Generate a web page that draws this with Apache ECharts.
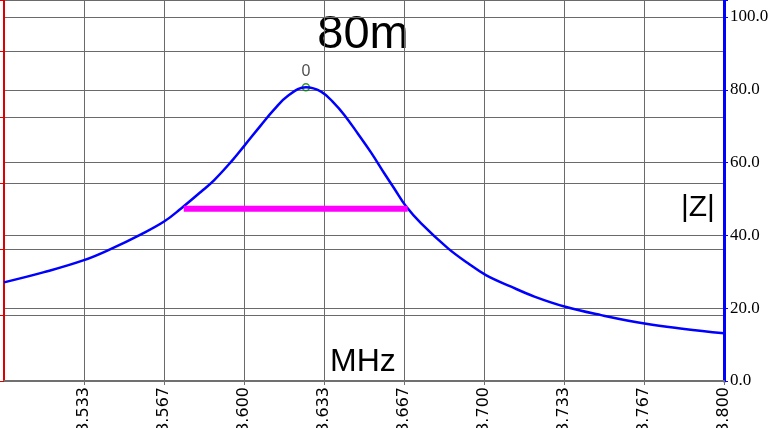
<!DOCTYPE html>
<html>
<head>
<meta charset="utf-8">
<script src="https://cdn.jsdelivr.net/npm/echarts@6/dist/echarts.min.js"></script>
<style>
html,body{margin:0;padding:0;background:#fff;}
#chart{width:777px;height:428px;}
</style>
</head>
<body>
<div id="chart"></div>
<script>
// impedance sweep, 80m band
var freqs = [3.5000, 3.5167, 3.5333, 3.5446, 3.5571, 3.5667, 3.5738, 3.5821, 3.5876, 3.5946, 3.6001,
             3.6071, 3.6126, 3.6182, 3.6258, 3.6321, 3.6376, 3.6418, 3.6474, 3.6529, 3.6585, 3.6626,
             3.6675, 3.6738, 3.6849, 3.6932, 3.7008, 3.7113, 3.7210, 3.7339, 3.7488, 3.7675, 3.7835, 3.8000];
var zVals = [27.1, 29.9, 33.2, 36.3, 40.3, 43.8, 47.4, 52.0, 55.2, 60.2, 64.6,
             70.3, 74.6, 78.3, 80.7, 79.5, 76.3, 73.1, 68.0, 62.8, 57.0, 52.9,
             48.0, 43.3, 36.5, 32.4, 29.1, 25.9, 23.2, 20.4, 18.1, 15.7, 14.3, 13.1];
var bwFreqs = [3.5749, 3.6682];   // magenta bar ends
var bwLevel = 47.3;
var peakFreq = 3.6258, peakZ = 80.7, peakName = '0';
var xTicks = ['3.533', '3.567', '3.600', '3.633', '3.667', '3.700', '3.733', '3.767', '3.800'];
var zTicks = ['0.0', '20.0', '40.0', '60.0', '80.0', '100.0'];

var xMin = 3.5, xMax = 3.8;
var zMax = 104.67; // top of plot sits above the 100.0 tick

var curve = [];
for (var i = 0; i < freqs.length; i++) curve.push([freqs[i], zVals[i]]);
var bw = [[bwFreqs[0], bwLevel], [bwFreqs[1], bwLevel]];

var chart = echarts.init(document.getElementById('chart'));
var option = {
    animation: false,
    grid: { left: 4, right: 53, top: 0, bottom: 47, outerBoundsMode: 'none', containLabel: false },
    xAxis: {
        type: 'value',
        min: xMin,
        max: xMax,
        interval: (xMax - xMin) / xTicks.length,
        axisLine: { show: true, lineStyle: { color: '#707070', width: 2 } },
        axisTick: { show: true, length: 4, lineStyle: { color: '#707070' } },
        splitLine: { show: true, lineStyle: { color: '#6a6a6a', width: 1 } },
        axisLabel: {
            rotate: 90,
            margin: 6,
            showMinLabel: false,
            fontFamily: 'DejaVu Sans',
            fontSize: 16,
            color: '#000',
            formatter: function (v) {
                var idx = Math.round((v - xMin) / ((xMax - xMin) / xTicks.length)) - 1;
                return idx >= 0 ? xTicks[idx] : '';
            }
        }
    },
    yAxis: [
        {
            type: 'value',
            position: 'left',
            min: 0,
            max: 5.7727,
            interval: 1,
            axisLine: { show: true, lineStyle: { color: '#dd0000', width: 2 } },
            axisTick: { show: true, length: 4, lineStyle: { color: '#dd0000' } },
            axisLabel: { show: false },
            splitLine: { show: true, lineStyle: { color: '#6a6a6a', width: 1 } }
        },
        {
            type: 'value',
            position: 'right',
            min: 0,
            max: zMax,
            interval: 20,
            axisLine: { show: true, lineStyle: { color: '#0000ff', width: 3 } },
            axisTick: { show: true, length: 4, lineStyle: { color: '#0000ff' } },
            axisLabel: {
                margin: 6,
                fontFamily: 'Liberation Serif',
                fontSize: 17,
                color: '#000',
                formatter: function (v) {
                    var idx = Math.round(v / 20);
                    return (Math.abs(v - idx * 20) < 0.01 && zTicks[idx]) ? zTicks[idx] : '';
                }
            },
            splitLine: { show: true, lineStyle: { color: '#6a6a6a', width: 1 } }
        }
    ],
    series: [
        {
            name: '|Z|',
            type: 'line',
            yAxisIndex: 1,
            data: curve,
            smooth: 0.4,
            showSymbol: false,
            lineStyle: { color: '#0000ff', width: 2.5 }
        },
        {
            name: 'bw',
            type: 'line',
            yAxisIndex: 1,
            data: bw,
            showSymbol: false,
            lineStyle: { color: '#ff00ff', width: 6, cap: 'butt' }
        },
        {
            name: 'marker',
            type: 'scatter',
            yAxisIndex: 1,
            data: [[peakFreq, peakZ]],
            symbol: 'circle',
            symbolSize: 7,
            itemStyle: { color: 'rgba(0,0,0,0)', borderColor: '#008000', borderWidth: 1.5 },
            label: {
                show: true,
                position: 'top',
                distance: 3,
                formatter: peakName,
                fontFamily: 'Liberation Sans',
                fontSize: 16,
                color: '#222'
            }
        }
    ],
    graphic: [
        { type: 'text', x: 363, y: 35, style: { text: '80m', font: '47px "Liberation Sans"', fill: '#000', align: 'center', verticalAlign: 'middle' } },
        { type: 'text', x: 330, y: 362, style: { text: 'MHz', font: '32px "Liberation Sans"', fill: '#000', align: 'left', verticalAlign: 'middle' } },
        { type: 'text', x: 681, y: 208, style: { text: '|Z|', font: '30px "Liberation Sans"', fill: '#000', align: 'left', verticalAlign: 'middle' } }
    ]
};
chart.setOption(option);
</script>
</body>
</html>
